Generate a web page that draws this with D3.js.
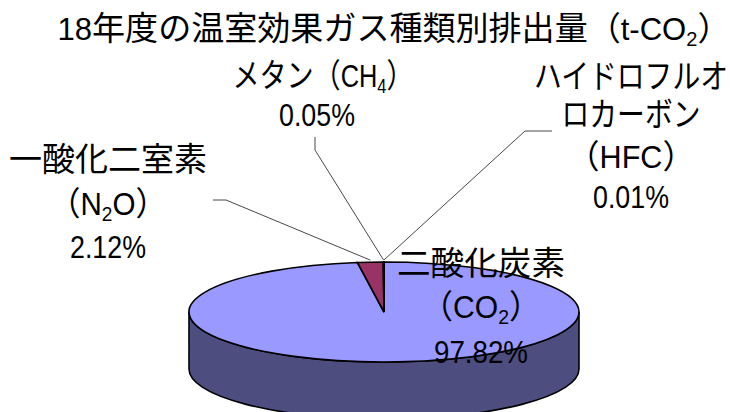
<!DOCTYPE html>
<html>
<head>
<meta charset="utf-8">
<script src="https://cdn.jsdelivr.net/npm/d3@7"></script>
<style>
  html, body { margin: 0; padding: 0; background: #fff; }
  text { font-family: "Liberation Sans", "Noto Sans CJK JP", sans-serif; fill: #000; }
</style>
</head>
<body>
<svg id="chart" width="730" height="412"></svg>
<script>
var categories = ["CO2", "N2O", "CH4", "HFC"];
var values = [97.82, 2.12, 0.05, 0.01];
var percentLabels = ["97.82%", "2.12%", "0.05%", "0.01%"];
var colors = ["#9999ff", "#993366", "#ffffcc", "#ccffff"];
var titleParts = [["18"], ["年度の温室効果ガス種類別排出量（"], ["t-CO"], ["2", "sub"], ["）"]];

var nameLines = {
  CO2: [[["二酸化炭素"]], [["（"], ["CO"], ["2", "sub"], ["）"]]],
  N2O: [[["一酸化二室素"]], [["（"], ["N"], ["2", "sub"], ["O"], ["）"]]],
  CH4: [[["メタン（"], ["CH"], ["4", "sub"], ["）"]]],
  HFC: [[["ハイドロフルオ"]], [["ロカーボン"]], [["（"], ["HFC"], ["）"]]]
};

// layout only: xs = centre of each text line, ys = baselines, ws = fitted widths
var labelLayout = {
  CO2: { xs: [481, 481, 481], ys: [275, 318, 363], ws: [168, 120, 94] },
  N2O: { xs: [108, 108, 108], ys: [171, 215, 258], ws: [198, 118, 76] },
  CH4: { xs: [323, 317], ys: [87, 126], ws: [181, 76] },
  HFC: { xs: [631, 631, 631, 631], ys: [88, 126, 168, 208], ws: [194, 139, 128, 76] }
};
var leaderElbows = {
  N2O: [[213, 200], [226, 200]],
  CH4: [[315, 137], [315, 150]],
  HFC: [[552, 131], [525, 131]]
};

var svg = d3.select("#chart");
var cx = 384, cy = 312, rx = 195, ry = 50, depth = 57;
var cjkSize = 33, latinSize = 31;

var pie = d3.pie().sort(null).value(function (d) { return d; });
var arcs = pie(values);
var arc = d3.arc().innerRadius(0).outerRadius(rx);

// side wall of the drum, front half of the ellipse pushed down
svg.append("path")
  .attr("d", "M" + (cx - rx) + "," + cy +
    "A" + rx + "," + ry + " 0 0 0 " + (cx + rx) + "," + cy +
    "V" + (cy + depth) +
    "A" + rx + "," + ry + " 0 0 1 " + (cx - rx) + "," + (cy + depth) + "Z")
  .attr("fill", "#4d4d80")
  .attr("stroke", "#000")
  .attr("stroke-width", 1.6);

svg.append("g")
  .attr("transform", "translate(" + cx + "," + cy + ") scale(1," + (ry / rx) + ")")
  .selectAll("path")
  .data(arcs)
  .enter().append("path")
  .attr("d", arc)
  .attr("fill", function (d, i) { return colors[i]; })
  .attr("stroke", "#000")
  .attr("stroke-width", 1.6)
  .attr("vector-effect", "non-scaling-stroke");

// leader lines run from the rim of each small slice to its label
arcs.forEach(function (d, i) {
  var name = categories[i];
  if (!leaderElbows[name]) return;
  var mid = (d.startAngle + d.endAngle) / 2;
  var pts = leaderElbows[name].concat([[cx + rx * Math.sin(mid), cy - ry * Math.cos(mid) - 2]]);
  svg.append("path")
    .attr("d", d3.line()(pts))
    .attr("fill", "none")
    .attr("stroke", "#333")
    .attr("stroke-width", 0.9);
});

// text is squeezed sideways to the measured width, the source font is condensed
function addLine(x, y, width, parts) {
  var t = svg.append("text").attr("text-anchor", "middle");
  var shifted = false;
  parts.forEach(function (p) {
    var cjk = /[\u3000-\u9fff\uff00-\uffef]/.test(p[0]);
    var s = t.append("tspan").text(p[0]).attr("font-size", cjk ? cjkSize : latinSize);
    if (p[1] === "sub") {
      s.attr("dy", 6).attr("font-size", 20);
      shifted = true;
    } else if (shifted) {
      s.attr("dy", -6);
      shifted = false;
    }
  });
  var k = width / t.node().getComputedTextLength();
  t.attr("transform", "translate(" + x + "," + y + ") scale(" + k + ",1)");
}

addLine(394, 40, 673, titleParts);

categories.forEach(function (name, i) {
  var lay = labelLayout[name];
  var lines = nameLines[name].concat([[[percentLabels[i]]]]);
  lines.forEach(function (parts, j) {
    addLine(lay.xs[j], lay.ys[j], lay.ws[j], parts);
  });
});
</script>
</body>
</html>
